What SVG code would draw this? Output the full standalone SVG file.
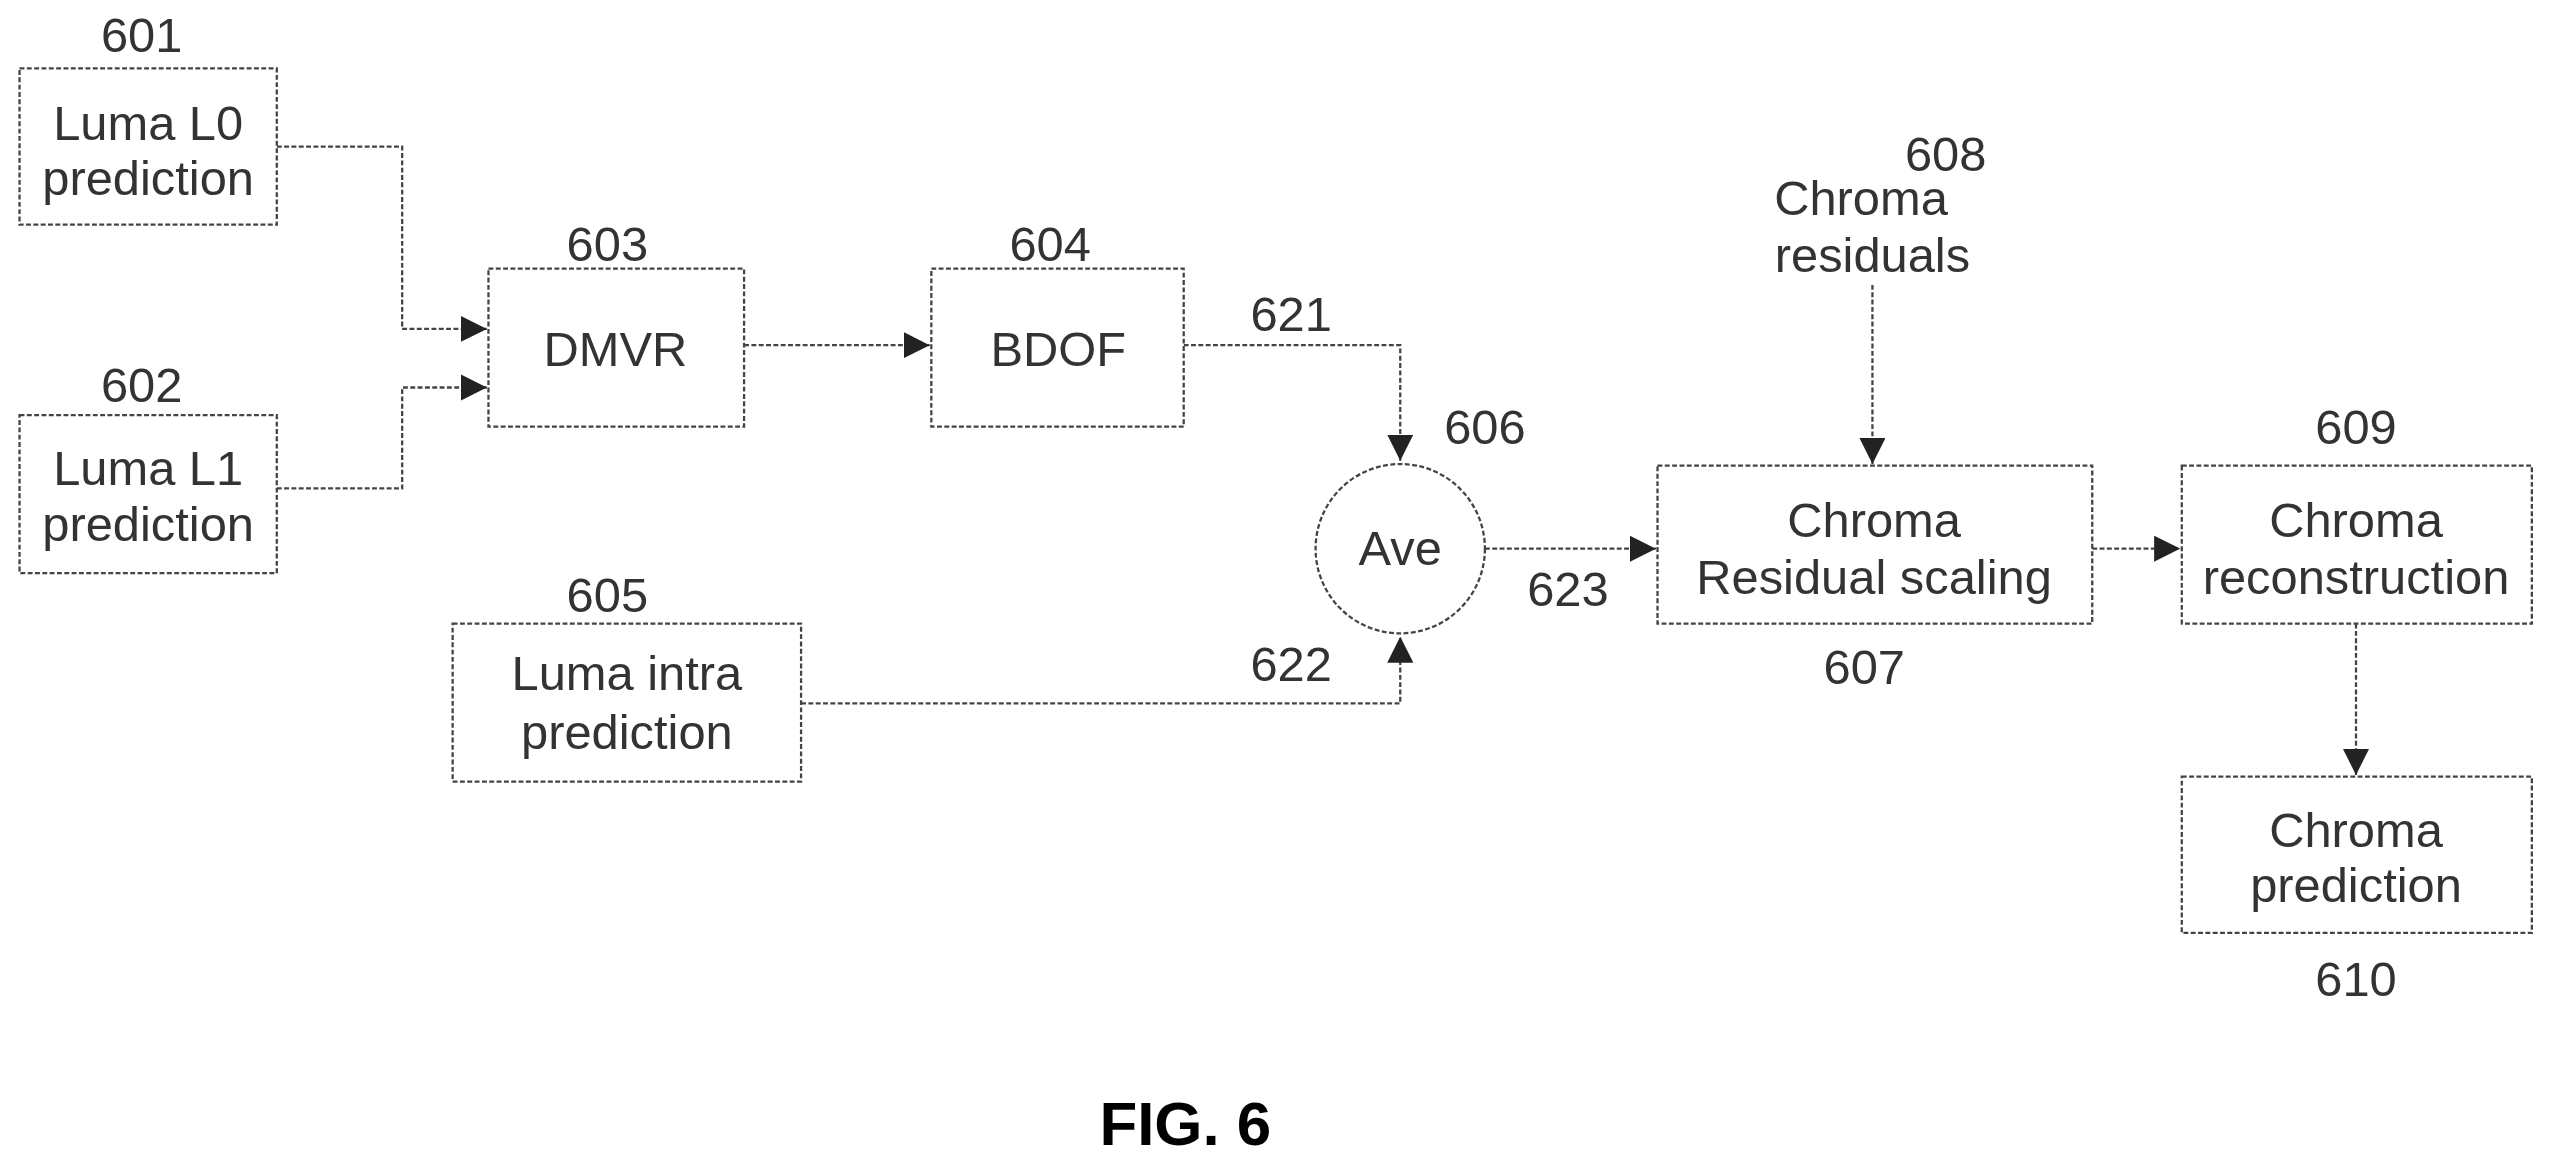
<svg xmlns="http://www.w3.org/2000/svg" width="2553" height="1168" viewBox="0 0 2553 1168">
<defs>
<style>
text{font-family:"Liberation Sans",Arial,sans-serif;font-size:30px;fill:#333;text-anchor:middle}
.b{fill:#fff;stroke:#444;stroke-width:1.4;stroke-dasharray:3 1.5}
.c{fill:none;stroke:#444;stroke-width:1.4;stroke-dasharray:3 1.5}
.fig{font-weight:bold;font-size:38px;fill:#000}
</style>
<marker id="a" viewBox="0 0 10 10" refX="10" refY="5" markerWidth="16" markerHeight="16" markerUnits="userSpaceOnUse" orient="auto"><path d="M0,0L10,5L0,10z" fill="#222"/></marker>
</defs>
<rect width="2553" height="1168" fill="#fff"/>
<g transform="scale(1.6282)">
<g id="connectors">
<path class="c" d="M170,90H247V202H299" marker-end="url(#a)"/>
<path class="c" d="M170,300H247V238H299" marker-end="url(#a)"/>
<path class="c" d="M457,212H571" marker-end="url(#a)"/>
<path class="c" d="M727,212H860V283" marker-end="url(#a)"/>
<path class="c" d="M492,432H860V391" marker-end="url(#a)"/>
<path class="c" d="M912,337H1017" marker-end="url(#a)"/>
<path class="c" d="M1150,175V285" marker-end="url(#a)"/>
<path class="c" d="M1285,337H1339" marker-end="url(#a)"/>
<path class="c" d="M1447,383V476" marker-end="url(#a)"/>
</g>
<g id="n601"><rect class="b" x="12" y="42" width="158" height="96"/><text x="91" y="86">Luma L0</text><text x="91" y="120">prediction</text><text x="87" y="32">601</text></g>
<g id="n602"><rect class="b" x="12" y="255" width="158" height="97"/><text x="91" y="298">Luma L1</text><text x="91" y="332">prediction</text><text x="87" y="247">602</text></g>
<g id="n603"><rect class="b" x="300" y="165" width="157" height="97"/><text x="378" y="225">DMVR</text><text x="373" y="160">603</text></g>
<g id="n604"><rect class="b" x="572" y="165" width="155" height="97"/><text x="650" y="225">BDOF</text><text x="645" y="160">604</text></g>
<g id="n605"><rect class="b" x="278" y="383" width="214" height="97"/><text x="385" y="424">Luma intra</text><text x="385" y="460">prediction</text><text x="373" y="376">605</text></g>
<g id="n606"><circle class="b" cx="860" cy="337" r="52"/><text x="860" y="347">Ave</text><text x="912" y="273">606</text></g>
<g id="n607"><rect class="b" x="1018" y="286" width="267" height="97"/><text x="1151" y="330">Chroma</text><text x="1151" y="365">Residual scaling</text><text x="1145" y="420">607</text></g>
<g id="n608"><text x="1195" y="105">608</text><text x="1143" y="132">Chroma</text><text x="1150" y="167">residuals</text></g>
<g id="n609"><rect class="b" x="1340" y="286" width="215" height="97"/><text x="1447" y="330">Chroma</text><text x="1447" y="365">reconstruction</text><text x="1447" y="273">609</text></g>
<g id="n610"><rect class="b" x="1340" y="477" width="215" height="96"/><text x="1447" y="520">Chroma</text><text x="1447" y="554">prediction</text><text x="1447" y="612">610</text></g>
<text x="793" y="203">621</text>
<text x="793" y="418">622</text>
<text x="963" y="372">623</text>
<text class="fig" x="728" y="703">FIG. 6</text>
</g>
</svg>
